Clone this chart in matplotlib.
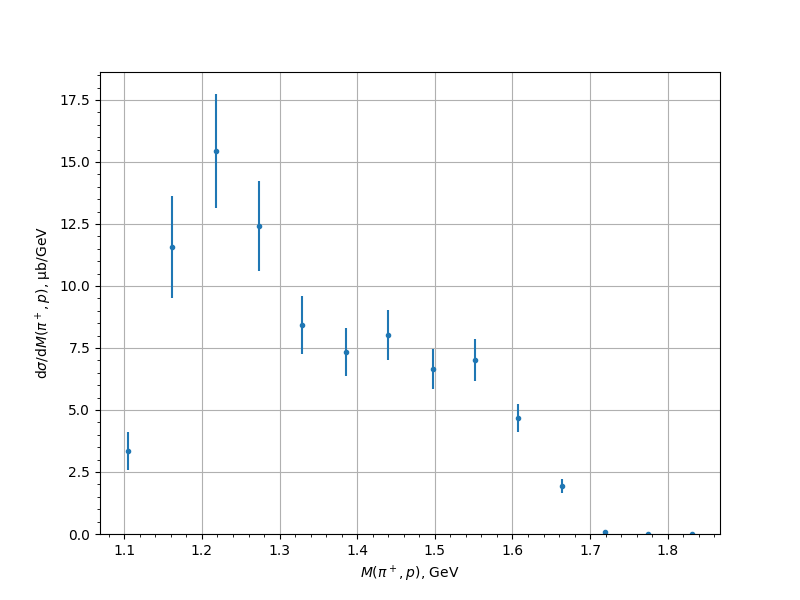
import numpy as np
import matplotlib
matplotlib.use("Agg")
import matplotlib.pyplot as plt

# bin centres [GeV]
mass = [1.105, 1.162, 1.218, 1.273, 1.329, 1.385, 1.440, 1.497, 1.552, 1.607, 1.664, 1.719, 1.774, 1.831]
# cross section [ub/GeV]
xsec = [3.35, 11.57, 15.44, 12.42, 8.43, 7.34, 8.02, 6.65, 7.02, 4.68, 1.94, 0.08, 0.02, 0.01]
xsec_err = [0.78, 2.05, 2.30, 1.82, 1.17, 0.97, 1.00, 0.81, 0.85, 0.58, 0.27, 0.03, 0.01, 0.01]

fig, ax = plt.subplots(figsize=(8, 6), dpi=100)
ax.errorbar(mass, xsec, yerr=xsec_err, fmt="o", ms=3, color="C0")
ax.set_ylim(bottom=0)
ax.minorticks_on()
ax.grid(True, which="major")
ax.set_xlabel(r"$M(\pi^+, p)$, GeV")
ax.set_ylabel(r"d$\sigma$/d$M(\pi^+, p)$, μb/GeV")

fig.savefig("out.png")
